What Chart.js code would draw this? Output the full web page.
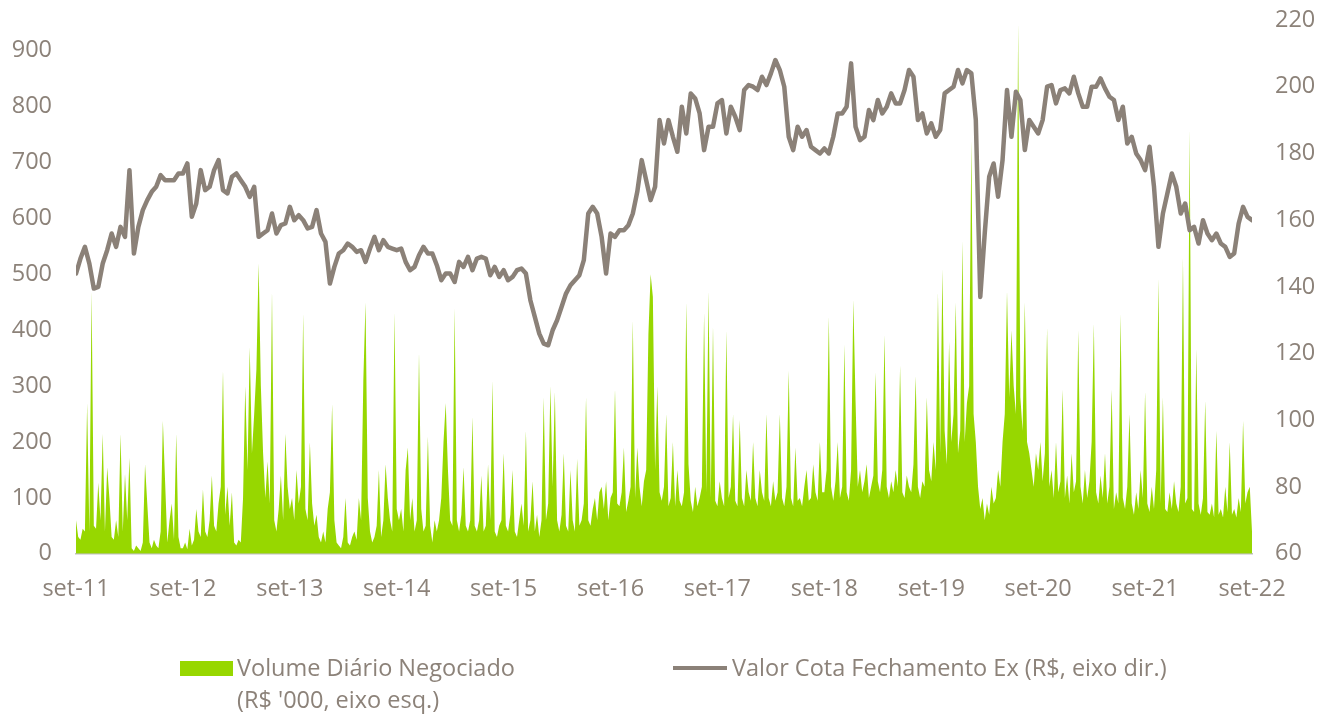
<!DOCTYPE html>
<html><head><meta charset="utf-8">
<script src="https://cdn.jsdelivr.net/npm/chart.js@4.4.0/dist/chart.umd.min.js"></script>
<style>
html,body{margin:0;padding:0;background:#fff;}
#wrap{position:relative;width:1319px;height:716px;overflow:hidden;}
canvas{position:absolute;left:0;top:0;}
.lg{position:absolute;font-family:'Open Sans';font-size:23.5px;color:#8C8279;line-height:32px;white-space:nowrap;}
</style></head><body>
<div id="wrap"><canvas id="c" width="1319" height="716"></canvas>
<div style="position:absolute;left:180px;top:661px;width:53px;height:15px;background:#97D700"></div>
<div class="lg" style="left:237px;top:651px">Volume Diário Negociado<br>(R$ '000, eixo esq.)</div>
<div style="position:absolute;left:673px;top:666px;width:54px;height:4px;background:#8B8178"></div>
<div class="lg" style="left:732px;top:651px">Valor Cota Fechamento Ex (R$, eixo dir.)</div>
</div>
<script>
const tickLabels = ['set-11','set-12','set-13','set-14','set-15','set-16','set-17','set-18','set-19','set-20','set-21','set-22'];
const leftTicks = [0,100,200,300,400,500,600,700,800,900];
const rightTicks = [60,80,100,120,140,160,180,200,220];

// Valor Cota Fechamento Ex (R$) - 24 readings per year, from set-11
const p2011 = [144,148.5,152,147,139.5,140,147,151,156,152,158,155,175,150,158,163,166,168.5,170,173.5,172,172,172,174];
const p2012 = [174,177,161,165,175,169,170,175,178,169,168,173,174,172,170,167,170,155,156,157,162,156,158.5,159];
const p2013 = [164,160,161.5,160,157.5,158,163,156,153.5,141,146,150,151,153,152,150.5,151,147.5,151.5,155,151,154,152,151.5];
const p2014 = [151,151.5,147.5,145,146,149.5,152,150,150,146.5,142,144,144,141.5,147.5,146,149,145,148.5,149,148.5,143.5,146,143];
const p2015 = [145,142,143,145,145.5,144,136,131,126,123,122.5,127,130,134,138,140.5,142,143.5,148,162,164,162,155,144];
const p2016 = [156,155,157,157,158.5,162,168.5,178,172,166,170,190,183,190,185,180.5,194,186,198,196.5,192,181,188,188];
const p2017 = [195,196,186,194,191,187,199,200.5,200,199,203,200.5,204,208,205,200,185,181,188,185,187,182,181,180];
const p2018 = [181.5,180,185,192,192,194,207,188,184,185,193,190,196,192,194,198,195,195,199,205,203,190,192,186];
const p2019 = [189,185,187,198,199,200,205,201,205,204,190,137,156,173,177,167,178,199,185,198.5,196,181,190,188];
const p2020 = [186,190,200,200.5,195,199,199.5,198,203,198,194,194,200,200,202.5,199.5,197,196,190,194,183,185,180,178];
const p2021 = [175,182,170,152,162,168,174,170,162,165,157,158,153,160,156,154,156,153,152,149,150,159,164,161,160];

// Volume Diário Negociado (R$ '000) - 48 readings per year, from set-11
const v2011 = [60,30,25,45,40,270,40,470,50,45,127,60,215,40,155,100,30,25,60,30,215,40,143,60,172,10,5,15,10,5,20,160,90,20,10,25,15,10,40,238,130,20,60,90,25,215,30,10];
const v2012 = [10,20,8,45,15,25,80,40,30,115,40,30,60,140,50,40,90,120,328,70,120,50,110,20,15,25,20,100,300,150,370,180,250,330,520,300,180,100,165,90,470,60,40,80,140,60,215,120];
const v2013 = [80,100,60,150,90,120,430,80,60,200,90,50,70,30,20,40,20,80,110,268,60,20,15,10,30,100,20,15,30,40,25,100,60,310,450,100,40,20,30,50,150,30,60,160,100,60,40,432];
const v2014 = [80,60,80,40,150,190,60,100,40,60,360,80,40,50,210,50,20,60,40,60,100,200,270,150,60,50,440,60,40,70,155,50,40,60,245,50,40,60,140,40,50,160,60,310,40,30,50,60];
const v2015 = [180,50,40,70,150,40,30,60,90,50,220,40,60,130,40,70,30,60,280,60,90,300,120,290,60,40,70,180,50,40,150,60,40,170,50,60,90,280,60,50,80,100,60,110,120,80,130,60];
const v2016 = [100,110,295,90,85,110,190,75,95,120,418,100,190,120,85,130,150,393,500,460,150,300,110,95,120,250,85,100,200,85,150,95,85,110,450,160,95,75,120,85,100,120,432,110,470,100,408,95];
const v2017 = [85,130,100,85,400,100,120,250,95,85,240,100,85,150,110,95,200,100,85,150,110,95,250,100,85,130,95,110,250,100,85,120,328,100,85,190,95,100,85,120,150,95,100,160,110,95,200,110];
const v2018 = [110,150,425,120,95,130,200,100,120,375,110,95,150,455,274,120,150,110,130,160,100,120,140,325,130,110,150,392,120,100,130,110,150,120,337,110,100,140,120,110,160,318,120,100,130,120,280,150];
const v2019 = [130,200,150,468,180,510,220,160,380,200,250,450,180,220,560,200,270,300,740,250,200,120,80,100,60,90,70,120,90,100,150,120,200,250,470,280,400,300,250,950,280,220,450,200,180,150,120,180];
const v2020 = [150,200,130,180,405,120,150,100,200,110,130,294,100,140,90,180,110,130,400,120,90,150,100,130,200,412,110,90,140,100,180,90,120,294,80,110,90,430,100,80,120,250,90,70,110,80,150,100];
const v2021 = [290,90,75,120,80,150,493,90,280,80,75,110,80,130,90,75,120,530,90,100,760,80,75,367,90,70,100,274,75,70,90,65,220,70,80,65,120,75,200,70,80,65,100,75,238,90,110,120,40];

const price = [].concat(p2011,p2012,p2013,p2014,p2015,p2016,p2017,p2018,p2019,p2020,p2021);
const volume = [].concat(v2011,v2012,v2013,v2014,v2015,v2016,v2017,v2018,v2019,v2020,v2021);

const TXT = '#8C8279';
const FONT = {family:'Open Sans', size:23.5};

new Chart(document.getElementById('c'), {
  type: 'line',
  data: {
    datasets: [
      {
        label: 'Valor Cota Fechamento Ex (R$, eixo dir.)',
        data: price.map((v,i)=>({x:i/24, y:v})),
        yAxisID: 'y2',
        borderColor: '#8B8178',
        borderWidth: 4.5,
        borderJoinStyle: 'round',
        borderCapStyle: 'round',
        pointRadius: 0,
        tension: 0,
        fill: false,
        order: 0
      },
      {
        label: "Volume Diário Negociado (R$ '000, eixo esq.)",
        data: volume.map((v,i)=>({x:i/48, y:v})),
        yAxisID: 'y',
        borderColor: 'rgba(0,0,0,0)',
        borderWidth: 0,
        backgroundColor: '#97D700',
        fill: 'origin',
        pointRadius: 0,
        tension: 0,
        order: 1
      }
    ]
  },
  options: {
    responsive: false,
    animation: false,
    layout: {padding: {top: 20, bottom: 92, left: 0, right: 0}},
    plugins: {legend: {display: false}, tooltip: {enabled: false}},
    scales: {
      x: {
        type: 'linear', min: 0, max: 11,
        grid: {display: false, drawTicks: false},
        border: {display: true, color: '#BFBFBF', width: 1.5},
        ticks: {stepSize: 1, autoSkip: false, maxRotation: 0, padding: 21, color: TXT, font: FONT,
          callback: v => tickLabels[Math.round(v)]}
      },
      y: {
        position: 'left', min: 0, max: 955,
        grid: {display: false, drawTicks: false}, border: {display: false},
        ticks: {autoSkip: false, padding: 24, color: TXT, font: FONT},
        afterBuildTicks: s => { s.ticks = leftTicks.map(v => ({value: v})); },
        afterFit: s => { s.width = 76; s.paddingTop = 0; }
      },
      y2: {
        position: 'right', min: 60, max: 220,
        grid: {display: false, drawTicks: false}, border: {display: false},
        ticks: {autoSkip: false, padding: 23, color: TXT, font: FONT},
        afterBuildTicks: s => { s.ticks = rightTicks.map(v => ({value: v})); },
        afterFit: s => { s.width = 67; s.paddingTop = 0; }
      }
    }
  }
});
</script>
</body></html>
